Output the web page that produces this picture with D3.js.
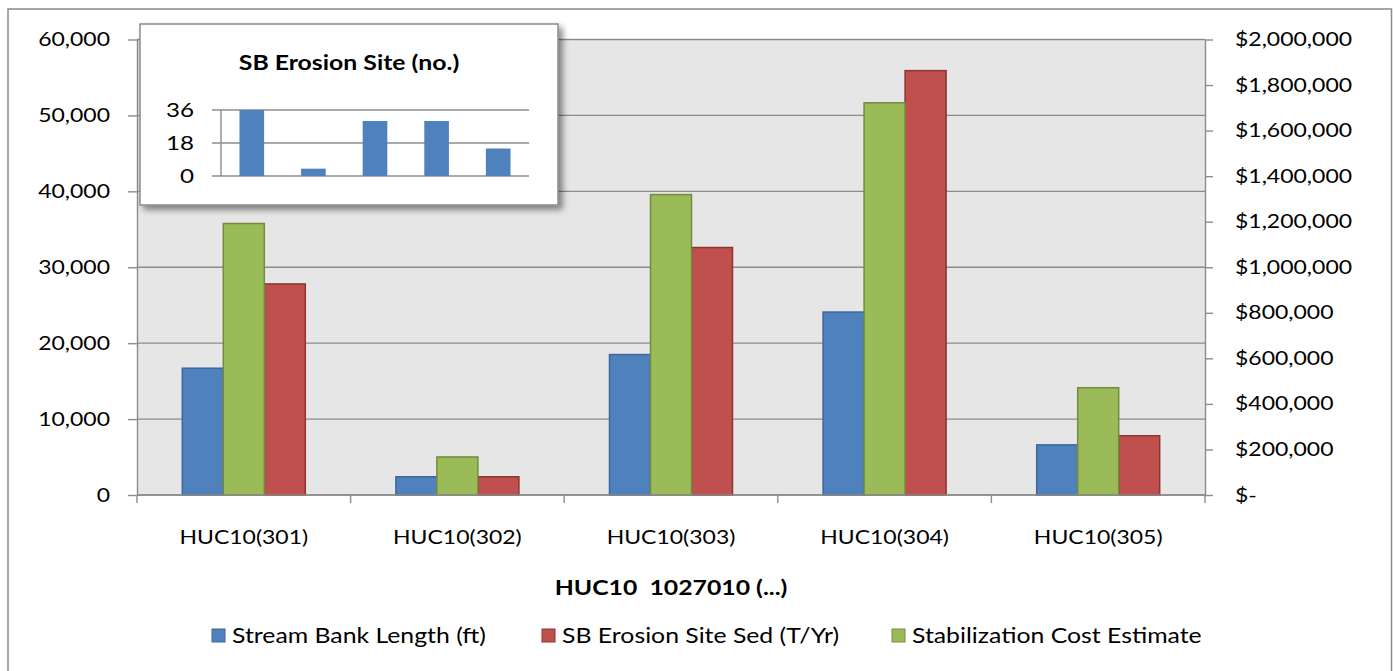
<!DOCTYPE html>
<html><head><meta charset="utf-8">
<script src="https://cdn.jsdelivr.net/npm/d3@7/dist/d3.min.js"></script>
<style>
html,body{margin:0;padding:0;background:#fff;}
svg{display:block;}
text{font-family:Lato,"Open Sans",sans-serif;fill:#000;white-space:pre;}
</style></head>
<body>
<svg id="chart" width="1393" height="671"></svg>
<script>
// ---------- data ----------
const categories = ["HUC10(301)", "HUC10(302)", "HUC10(303)", "HUC10(304)", "HUC10(305)"];
const streamBankLength = [16700, 2400, 18500, 24100, 6600];          // ft (left axis)
const sbErosionSed = [27800, 2400, 32600, 55900, 7800];              // T/Yr (left axis)
const stabilizationCost = [1192000, 167000, 1319000, 1722000, 471000]; // $ (right axis)
const erosionSites = [36, 4, 30, 30, 15];                            // inset chart
const leftTicks = [0, 10000, 20000, 30000, 40000, 50000, 60000];
const rightTicks = [0, 200000, 400000, 600000, 800000, 1000000, 1200000, 1400000, 1600000, 1800000, 2000000];
const insetTicks = [0, 18, 36];
const seriesNames = ["Stream Bank Length (ft)", "SB Erosion Site Sed (T/Yr)", "Stabilization Cost Estimate"];
const axisTitle = "HUC10  1027010 (...)";
const insetTitle = "SB Erosion Site (no.)";

// ---------- style ----------
const SX = 1.21;   // horizontal text stretch
const FS = 19;
const C = {blue:"#4f81bd", red:"#c0504d", green:"#9bbb59",
           blueS:"#3a679c", redS:"#8e3431", greenS:"#728c3e",
           grid:"#8c8c8c", plot:"#e6e6e6"};

const svg = d3.select("#chart");
const defs = svg.append("defs");
const f = defs.append("filter").attr("id","shadow").attr("x","-10%").attr("y","-10%").attr("width","130%").attr("height","130%");
f.append("feDropShadow").attr("dx",4).attr("dy",4).attr("stdDeviation",3).attr("flood-color","#000").attr("flood-opacity",0.45);

function txt(g, x, y, s, anchor, size, weight){
  return g.append("text")
    .attr("transform", `translate(${x},${y}) scale(${SX},1)`)
    .attr("text-anchor", anchor || "start")
    .attr("font-size", size || FS)
    .attr("font-weight", weight || "normal")
    .attr("xml:space","preserve")
    .text(s);
}

// outer frame
svg.append("rect").attr("x",8).attr("y",9).attr("width",1383.5).attr("height",700)
  .attr("fill","#fff").attr("stroke","#8a8a8a").attr("stroke-width",1.5);

// ---------- scales ----------
const x = d3.scaleBand().domain(categories).range([137, 1205]).paddingInner(0).paddingOuter(0);
const xs = d3.scaleBand().domain(["blue","green","red"]).range([0, x.bandwidth()]).paddingInner(0).paddingOuter(1.105);
const yL = d3.scaleLinear().domain([0, 60000]).range([495, 39.5]);
const yR = d3.scaleLinear().domain([0, 2000000]).range([495, 39.5]);

// plot background
svg.append("rect").attr("x",137).attr("y",yL(60000)).attr("width",1205-137).attr("height",yL(0)-yL(60000)).attr("fill",C.plot);

// gridlines
svg.append("g").selectAll("line").data(leftTicks).join("line")
  .attr("x1",137).attr("x2",1205).attr("y1",d=>yL(d)).attr("y2",d=>yL(d))
  .attr("stroke",C.grid).attr("stroke-width",1.4);

// ---------- bars ----------
const series = [
  {key:"blue", vals:streamBankLength, y:yL, fill:C.blue, stroke:C.blueS},
  {key:"red", vals:sbErosionSed, y:yL, fill:C.red, stroke:C.redS},
  {key:"green", vals:stabilizationCost, y:yR, fill:C.green, stroke:C.greenS}
];
series.forEach(s=>{
  svg.append("g").selectAll("rect").data(categories).join("rect")
    .attr("x",(c)=>x(c)+xs(s.key))
    .attr("width",xs.bandwidth())
    .attr("y",(c,i)=>s.y(s.vals[i]))
    .attr("height",(c,i)=>s.y(0)-s.y(s.vals[i]))
    .attr("fill",s.fill).attr("stroke",s.stroke).attr("stroke-width",1.5);
});

// ---------- axes ----------
function styleAxis(g){
  g.select(".domain").attr("stroke",C.grid).attr("stroke-width",1.4);
  g.selectAll(".tick line").attr("stroke",C.grid).attr("stroke-width",1.4);
  g.selectAll("text").attr("font-size",FS).attr("fill","#000")
    .attr("font-family","Lato, 'Open Sans', sans-serif")
    .each(function(){
      const t=d3.select(this); const ox=+t.attr("x");
      t.attr("x", ox/SX).attr("transform",`scale(${SX},1)`);
    });
}
const gL = svg.append("g").attr("transform","translate(137,0)")
  .call(d3.axisLeft(yL).tickValues(leftTicks).tickSizeInner(9).tickSizeOuter(0).tickPadding(18).tickFormat(d3.format(",")));
styleAxis(gL);
const gR = svg.append("g").attr("transform","translate(1205,0)")
  .call(d3.axisRight(yR).tickValues(rightTicks).tickSizeInner(8).tickSizeOuter(0).tickPadding(22)
    .tickFormat(d=> d===0 ? "$-" : "$" + d3.format(",")(d)));
styleAxis(gR);

// x axis baseline + boundary ticks
svg.append("line").attr("x1",137).attr("x2",1205).attr("y1",yL(0)).attr("y2",yL(0)).attr("stroke",C.grid).attr("stroke-width",1.4);
const bounds = categories.map(c=>x(c)).concat([x(categories[categories.length-1])+x.bandwidth()]);
svg.append("g").selectAll("line").data(bounds).join("line")
  .attr("x1",d=>d).attr("x2",d=>d).attr("y1",yL(0)).attr("y2",yL(0)+8)
  .attr("stroke",C.grid).attr("stroke-width",1.4);
const gx = svg.append("g");
categories.forEach(c=> txt(gx, x(c)+x.bandwidth()/2, 544, c, "middle"));

// axis title
txt(svg, 671, 595, axisTitle, "middle", 20.5, "bold");

// ---------- legend ----------
const legend = [
  {name:seriesNames[0], fill:C.blue, stroke:C.blueS, x:212},
  {name:seriesNames[1], fill:C.red, stroke:C.redS, x:542},
  {name:seriesNames[2], fill:C.green, stroke:C.greenS, x:892}
];
const lg = svg.append("g");
legend.forEach(l=>{
  lg.append("rect").attr("x",l.x).attr("y",629).attr("width",13).attr("height",13)
    .attr("fill",l.fill).attr("stroke",l.stroke).attr("stroke-width",1);
  txt(lg, l.x+20, 643, l.name, "start", 20.5);
});

// ---------- inset chart ----------
const inset = svg.append("g");
inset.append("rect").attr("x",140).attr("y",24).attr("width",418).attr("height",181)
  .attr("fill","#fff").attr("stroke","#8a8a8a").attr("stroke-width",1.5).attr("filter","url(#shadow)");
txt(inset, 349, 70, insetTitle, "middle", 20.5, "bold");
const xi = d3.scaleBand().domain(categories).range([221, 529]).paddingInner(0.6).paddingOuter(0.3);
const yi = d3.scaleLinear().domain([0, 36]).range([176, 110]);
inset.append("g").selectAll("line").data(insetTicks).join("line")
  .attr("x1",212).attr("x2",529).attr("y1",d=>yi(d)).attr("y2",d=>yi(d))
  .attr("stroke",C.grid).attr("stroke-width",1.4);
inset.append("line").attr("x1",221).attr("x2",221).attr("y1",yi(36)).attr("y2",yi(0))
  .attr("stroke",C.grid).attr("stroke-width",1.4);
inset.append("g").selectAll("rect").data(categories).join("rect")
  .attr("x",c=>xi(c)).attr("width",xi.bandwidth())
  .attr("y",(c,i)=>yi(erosionSites[i])).attr("height",(c,i)=>yi(0)-yi(erosionSites[i]))
  .attr("fill",C.blue);
insetTicks.forEach(t=> txt(inset, 194, yi(t)+7, String(t), "end", 20));
</script>
</body></html>
